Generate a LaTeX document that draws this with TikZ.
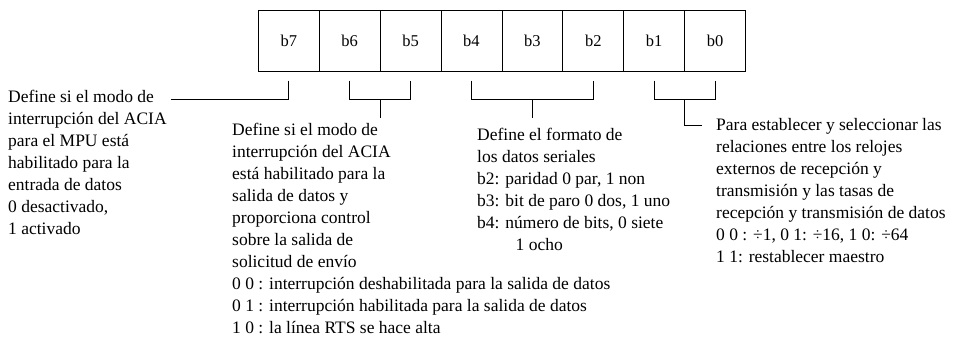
\documentclass[tikz,border=0pt]{standalone}
\usepackage{fontspec}
\setmainfont{Liberation Serif}

\begin{document}
\begin{tikzpicture}[
    x=1pt, y=1pt,
    bitcell/.style={draw, line width=0.8pt, minimum width=60.9pt, minimum height=61pt,
        inner sep=0pt, outer sep=0pt, font=\fontsize{16.5}{20}\selectfont},
    note/.style={anchor=north west, inner sep=0pt, align=left,
        font=\fontsize{17.5}{22}\selectfont},
    lead/.style={line width=0.8pt}
]
    \useasboundingbox (0,0) rectangle (958,-338);

    % Register bits b7 ... b0
    \foreach \b in {7,...,0}
        \node[bitcell] (c\b) at ({288.75+60.9*(7-\b)},-41.2) {b\b};

    % b7 -> left note
    \coordinate (k7) at (170.7,-99);
    \draw[lead] ([yshift=-9pt]c7.south) |- (k7);

    % b6, b5 bracket
    \draw[lead] ([yshift=-9pt]c6.south) -- ([yshift=-27.3pt]c6.south)
        -- ([yshift=-27.3pt]c5.south) -- ([yshift=-9pt]c5.south);
    \coordinate (k65) at ([yshift=-46.3pt]c6.south east);
    \draw[lead] ([yshift=-27.3pt]c6.south east) -- (k65);

    % b4, b3, b2 bracket
    \draw[lead] ([yshift=-9pt]c4.south) -- ([yshift=-27.3pt]c4.south)
        -- ([yshift=-27.3pt]c2.south) -- ([yshift=-9pt]c2.south);
    \coordinate (k42) at ([yshift=-46.3pt]c3.south);
    \draw[lead] ([yshift=-27.3pt]c3.south) -- (k42);

    % b1, b0 bracket
    \draw[lead] ([yshift=-9pt]c1.south) -- ([yshift=-27.3pt]c1.south)
        -- ([yshift=-27.3pt]c0.south) -- ([yshift=-9pt]c0.south);
    \coordinate (k10) at (701.7,-125.7);
    \draw[lead] ([yshift=-27.3pt]c1.south east) |- (k10);

    % Notes
    \node[note] (n7) at (8,-90) {Define si el modo de\\interrupción del ACIA\\para el MPU está\\habilitado para la\\entrada de datos\\0 desactivado,\\1 activado};
    \node[note] (n65) at (232,-123) {Define si el modo de\\interrupción del ACIA\\está habilitado para la\\salida de datos y\\proporciona control\\sobre la salida de\\solicitud de envío\\0 0 : interrupción deshabilitada para la salida de datos\\0 1 : interrupción habilitada para la salida de datos\\1 0 : la línea RTS se hace alta};
    \node[note] (n42) at (477,-128) {Define el formato de\\los datos seriales\\b2: paridad 0 par, 1 non\\b3: bit de paro 0 dos, 1 uno\\b4: número de bits, 0 siete\\\hspace*{2.2em}1 ocho};
    \node[note] (n10) at (716,-118) {Para establecer y seleccionar las\\relaciones entre los relojes\\externos de recepción y\\transmisión y las tasas de\\recepción y transmisión de datos\\0 0 : ÷1, 0 1: ÷16, 1 0: ÷64\\1 1: restablecer maestro};
\end{tikzpicture}
\end{document}
